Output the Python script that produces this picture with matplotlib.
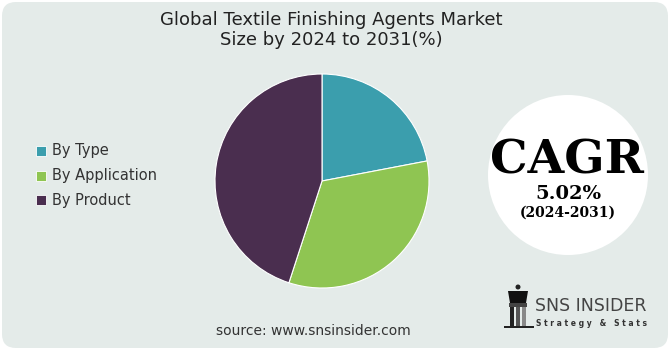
import matplotlib.pyplot as plt
from matplotlib.patches import FancyBboxPatch, Ellipse, Rectangle, Polygon

# segment shares (%)
segments = ["By Type", "By Application", "By Product"]
shares = [22, 33, 45]
colors = ["#3b9ead", "#8fc552", "#4a2e4f"]

title = "Global Textile Finishing Agents Market\nSize by 2024 to 2031(%)"
cagr_value = "5.02%"
cagr_period = "(2024-2031)"
source = "source: www.snsinsider.com"

W, H = 670, 350
BG = "#e4ebe9"

fig = plt.figure(figsize=(W / 100, H / 100), dpi=100)
fig.patch.set_facecolor("white")

# full-canvas axes in pixel coords for decorations
bg = fig.add_axes([0, 0, 1, 1])
bg.set_xlim(0, W)
bg.set_ylim(H, 0)
bg.axis("off")
bg.add_patch(FancyBboxPatch((2, 2), W - 4, H - 4,
                            boxstyle="round,pad=0,rounding_size=14",
                            facecolor=BG, edgecolor="none"))

bg.text(331, 30, title, ha="center", va="center", fontsize=13,
        color="#222222", linespacing=1.15, family="DejaVu Sans")

# legend
for i, (lab, col) in enumerate(zip(segments, colors)):
    y = 151 + i * 24.5
    bg.add_patch(Rectangle((35.5, y - 5), 10, 10, facecolor=col,
                           edgecolor="white", linewidth=0.6))
    bg.text(52, y, lab, ha="left", va="center", fontsize=10.5,
            color="#333333")

# CAGR badge
bg.add_patch(Ellipse((568, 175), 160, 160, facecolor="white",
                     edgecolor="none"))
bg.text(567, 161, "CAGR", ha="center", va="center", fontsize=34,
        fontweight="bold", family="DejaVu Serif", color="black")
bg.text(568, 194, cagr_value, ha="center", va="center", fontsize=14,
        fontweight="bold", family="DejaVu Serif", color="black")
bg.text(568, 213, cagr_period, ha="center", va="center", fontsize=10,
        fontweight="bold", family="DejaVu Serif", color="black")

bg.text(313, 331, source, ha="center", va="center", fontsize=10,
        color="#333333", family="DejaVu Sans")

# logo (rough tower mark + text)
bg.add_patch(Ellipse((518, 287), 5, 5, facecolor="#222222"))
bg.add_patch(Polygon([(508, 291), (528, 291), (526, 303), (510, 303)],
                     facecolor="#111111"))
bg.add_patch(Rectangle((509, 303), 18, 4, facecolor="#444444"))
bg.add_patch(Rectangle((510, 307), 4, 20, facecolor="#222222"))
bg.add_patch(Rectangle((516, 307), 4, 20, facecolor="#555555"))
bg.add_patch(Rectangle((522, 307), 4, 20, facecolor="#888888"))
bg.add_patch(Rectangle((504, 326), 30, 2, facecolor="#222222"))
bg.text(535, 306, "SNS INSIDER", ha="left", va="center", fontsize=12.5,
        color="#444444")
bg.text(536, 323, "S t r a t e g y   &   S t a t s", ha="left",
        va="center", fontsize=5.5, fontweight="bold", color="#333333")

# pie
cx, cy, r = 322, 181, 107
ax = fig.add_axes([(cx - r) / W, (H - cy - r) / H, 2 * r / W, 2 * r / H])
ax.pie(shares, colors=colors, startangle=90, counterclock=False,
       wedgeprops=dict(edgecolor="white", linewidth=0.8))
ax.set_xlim(-1, 1)
ax.set_ylim(-1, 1)
ax.set_aspect("auto")

fig.savefig("out.png", dpi=100, facecolor=fig.get_facecolor())
